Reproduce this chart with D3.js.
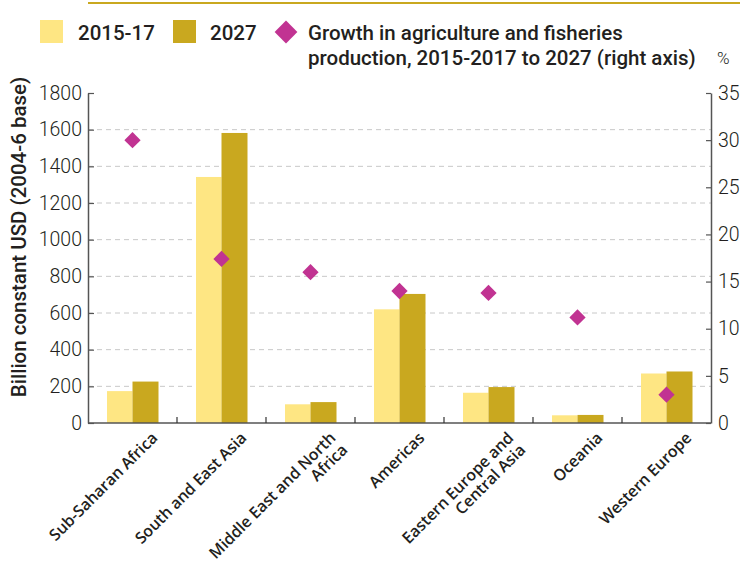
<!DOCTYPE html>
<html>
<head>
<meta charset="utf-8">
<script src="https://cdn.jsdelivr.net/npm/d3@7"></script>
<style>
  body { margin: 0; background: #fff; }
  svg text { font-family: Roboto, "Open Sans", sans-serif; fill: #231f20; }
</style>
</head>
<body>
<div id="chart"></div>
<script>
// chart data
const regions = ["Sub-Saharan Africa", "South and East Asia", "Middle East and North Africa",
    "Americas", "Eastern Europe and Central Asia", "Oceania", "Western Europe"];
// two-line labels where the original wraps
const regionLabels = [["Sub-Saharan Africa"], ["South and East Asia"], ["Middle East and North", "Africa"],
    ["Americas"], ["Eastern Europe and", "Central Asia"], ["Oceania"], ["Western Europe"]];
const base1517 = [174, 1342, 102, 620, 165, 42, 270];
const proj2027 = [226, 1582, 114, 704, 196, 44, 281];
const growth = [30.0, 17.4, 16.0, 14.0, 13.8, 11.2, 3.0];
const leftTicks = [0, 200, 400, 600, 800, 1000, 1200, 1400, 1600, 1800];
const rightTicks = [0, 5, 10, 15, 20, 25, 30, 35];

const W = 740, H = 568;
const margin = {top: 93, right: 29, bottom: 145, left: 88};
const innerW = W - margin.left - margin.right;
const innerH = H - margin.top - margin.bottom;

const col1517 = "#fee683", col2027 = "#c9a81f", colDiamond = "#c13392";

const svg = d3.select("#chart").append("svg")
    .attr("width", W)
    .attr("height", H);

// gold rule at top
svg.append("line")
    .attr("x1", 88).attr("x2", W)
    .attr("y1", 3).attr("y2", 3)
    .attr("stroke", "#c9a81f")
    .attr("stroke-width", 2);

const g = svg.append("g")
    .attr("transform", `translate(${margin.left},${margin.top})`);

// scales
const x = d3.scaleBand().domain(regions).range([0, innerW]);
const barW = 25.5;
const yL = d3.scaleLinear().domain([0, 1800]).range([innerH, 0]);
const yR = d3.scaleLinear().domain([0, 35]).range([innerH, 0]);

// dashed gridlines
g.selectAll(".grid")
    .data(leftTicks.filter(d => d > 0 && d < 1800))
    .enter().append("line")
    .attr("class", "grid")
    .attr("x1", 0).attr("x2", innerW)
    .attr("y1", d => yL(d)).attr("y2", d => yL(d))
    .attr("stroke", "#c8c8c8")
    .attr("stroke-width", 1)
    .attr("stroke-dasharray", "5,4");

// bars
g.selectAll(".bar1517")
    .data(regions)
    .enter().append("rect")
    .attr("x", d => x(d) + x.bandwidth() / 2 - barW)
    .attr("y", (d, i) => yL(base1517[i]))
    .attr("width", barW)
    .attr("height", (d, i) => innerH - yL(base1517[i]))
    .attr("fill", col1517);

g.selectAll(".bar2027")
    .data(regions)
    .enter().append("rect")
    .attr("x", d => x(d) + x.bandwidth() / 2)
    .attr("y", (d, i) => yL(proj2027[i]))
    .attr("width", barW + 0.5)
    .attr("height", (d, i) => innerH - yL(proj2027[i]))
    .attr("fill", col2027);

// diamonds (right axis)
const dSize = 11.5;
g.selectAll(".diamond")
    .data(regions)
    .enter().append("rect")
    .attr("x", -dSize / 2).attr("y", -dSize / 2)
    .attr("width", dSize).attr("height", dSize)
    .attr("transform", (d, i) => `translate(${x(d) + x.bandwidth() / 2},${yR(growth[i])}) rotate(45)`)
    .attr("fill", colDiamond);

// left axis
const axisL = d3.axisLeft(yL).tickValues(leftTicks).tickFormat(d3.format("d"))
    .tickSizeInner(-6).tickSizeOuter(0).tickPadding(6);
const gL = g.append("g").call(axisL);
gL.select(".domain").attr("stroke", "#555").attr("stroke-width", 1.5);
gL.selectAll(".tick line").attr("stroke", "#555").attr("stroke-width", 1.2);
gL.selectAll(".tick text")
    .style("font-size", "19.5px").style("font-weight", 300).attr("fill", "#231f20");

// right axis
const axisR = d3.axisRight(yR).tickValues(rightTicks).tickSizeInner(-5).tickSizeOuter(0).tickPadding(7);
const gR = g.append("g").attr("transform", `translate(${innerW},0)`).call(axisR);
gR.select(".domain").attr("stroke", "#555").attr("stroke-width", 1.5);
gR.selectAll(".tick line").attr("stroke", "#555").attr("stroke-width", 1.2);
gR.selectAll(".tick text")
    .style("font-size", "19.5px").style("font-weight", 300).attr("fill", "#231f20");

// bottom axis line and ticks between bands
g.append("line")
    .attr("x1", 0).attr("x2", innerW)
    .attr("y1", innerH).attr("y2", innerH)
    .attr("stroke", "#555").attr("stroke-width", 1.5);
g.selectAll(".xtick")
    .data(regions.slice(1))
    .enter().append("line")
    .attr("x1", d => x(d)).attr("x2", d => x(d))
    .attr("y1", innerH).attr("y2", innerH - 6)
    .attr("stroke", "#333").attr("stroke-width", 1.2);

// rotated category labels
const labels = g.selectAll(".xlab")
    .data(regions)
    .enter().append("text")
    .attr("text-anchor", "end")
    .attr("transform", d => `translate(${x(d) + x.bandwidth() / 2 + 26},${innerH + 16}) rotate(-45)`)
    .style("font-family", "'Open Sans', sans-serif")
    .style("font-size", "16px")
    .style("letter-spacing", "-0.1px")
    .style("font-weight", 600);
labels.each(function(d, i) {
    const t = d3.select(this);
    regionLabels[i].forEach((line, j) => {
        t.append("tspan")
            .attr("x", 0)
            .attr("dy", j === 0 ? 0 : "1.05em")
            .text(line);
    });
});

// left axis title
svg.append("text")
    .attr("transform", `translate(26,${margin.top + 144}) rotate(-90)`)
    .attr("text-anchor", "middle")
    .style("font-size", "20.5px")
    .style("font-weight", 500)
    .text("Billion constant USD (2004-6 base)");

// % label for right axis
svg.append("text")
    .attr("x", 717).attr("y", 64)
    .style("font-size", "17px")
    .style("font-weight", 300)
    .text("%");

// legend
const fs = "20.5px";
const leg = svg.append("g");
leg.append("rect").attr("x", 40).attr("y", 20).attr("width", 23).attr("height", 23).attr("fill", col1517);
leg.append("text").attr("x", 78).attr("y", 40).style("font-size", fs).style("font-weight", 500).text("2015-17");
leg.append("rect").attr("x", 173).attr("y", 20).attr("width", 23).attr("height", 23).attr("fill", col2027);
leg.append("text").attr("x", 210).attr("y", 40).style("font-size", fs).style("font-weight", 500).text("2027");
leg.append("rect")
    .attr("x", -dSize * 0.7).attr("y", -dSize * 0.7)
    .attr("width", dSize * 1.4).attr("height", dSize * 1.4)
    .attr("transform", "translate(286,32) rotate(45)")
    .attr("fill", colDiamond);
leg.append("text").attr("x", 308).attr("y", 40).style("font-size", fs).style("font-weight", 500)
    .text("Growth in agriculture and fisheries");
leg.append("text").attr("x", 308).attr("y", 65).style("font-size", fs).style("font-weight", 500)
    .text("production, 2015-2017 to 2027 (right axis)");
</script>
</body>
</html>
